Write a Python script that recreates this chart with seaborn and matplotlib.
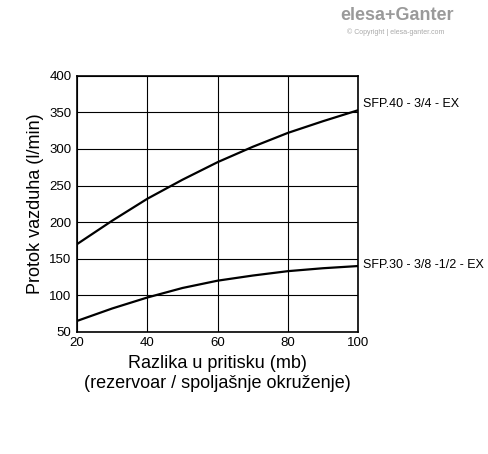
import matplotlib
matplotlib.use("Agg")
import matplotlib.pyplot as plt
import seaborn as sns
import pandas as pd

pressure = [20, 30, 40, 50, 60, 70, 80, 90, 100]
flow_40 = [170, 202, 232, 258, 282, 303, 322, 338, 353]
flow_30 = [65, 82, 97, 110, 120, 127, 133, 137, 140]
labels = ["SFP.40 - 3/4 - EX", "SFP.30 - 3/8 -1/2 - EX"]

sns.set_style("white")
plt.rcParams["font.family"] = ["Liberation Sans", "DejaVu Sans"]
plt.rcParams["text.color"] = "black"
plt.rcParams["axes.labelcolor"] = "black"
plt.rcParams["xtick.color"] = "black"
plt.rcParams["ytick.color"] = "black"

df = pd.DataFrame({"x": pressure * 2, "y": flow_40 + flow_30,
                   "s": [labels[0]] * len(pressure) + [labels[1]] * len(pressure)})

fig = plt.figure(figsize=(4.88, 4.54), dpi=100)
ax = fig.add_axes([0.158, 0.269, 0.576, 0.564])
sns.lineplot(data=df, x="x", y="y", units="s", estimator=None, color="black",
             linewidth=1.6, ax=ax, legend=False)
ax.set_xlim(20, 100)
ax.set_ylim(50, 400)
ax.set_xticks(range(20, 101, 20))
ax.set_yticks(range(50, 401, 50))
ax.grid(True, color="black", linewidth=0.8)
for sp in ax.spines.values():
    sp.set_color("black")
    sp.set_linewidth(1.2)
ax.tick_params(labelsize=9.5, length=0, pad=4)
ax.set_xlabel("Razlika u pritisku (mb)\n(rezervoar / spoljašnje okruženje)", fontsize=13)
ax.set_ylabel("Protok vazduha (l/min)", fontsize=13)
ax.text(101.5, flow_40[-1] + 8, labels[0], fontsize=9, va="center", clip_on=False)
ax.text(101.5, flow_30[-1] + 2, labels[1], fontsize=9, va="center", clip_on=False)

fig.text(0.93, 0.955, "elesa+Ganter", color="#9a9a9a", fontsize=13, fontweight="bold", ha="right")
fig.text(0.91, 0.925, "© Copyright | elesa-ganter.com", color="#aaaaaa", fontsize=5, ha="right")

fig.savefig("out.png", dpi=100)
